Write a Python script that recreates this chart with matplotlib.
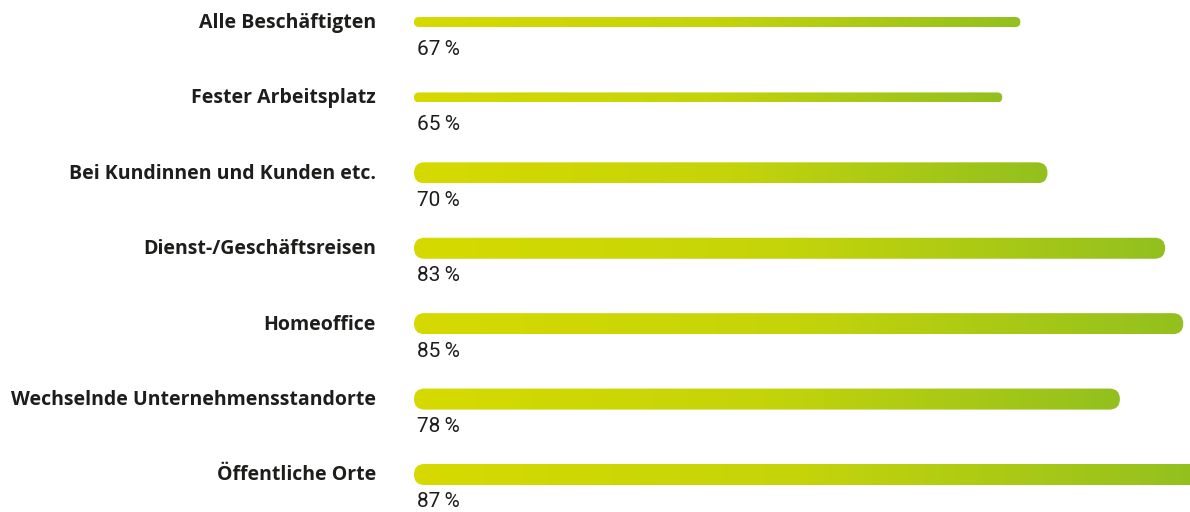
import numpy as np
import matplotlib.pyplot as plt
from matplotlib.patches import FancyBboxPatch
from matplotlib.colors import LinearSegmentedColormap

# Anteil in Prozent je Arbeitsort
kategorien = ['Alle Beschäftigten', 'Fester Arbeitsplatz', 'Bei Kundinnen und Kunden etc.',
              'Dienst-/Geschäftsreisen', 'Homeoffice', 'Wechselnde Unternehmensstandorte',
              'Öffentliche Orte']
werte = [67, 65, 70, 83, 85, 78, 87]
dick = [False, False, True, True, True, True, True]

W, H = 1190, 512
fig = plt.figure(figsize=(W / 100, H / 100), dpi=100)
x0 = 414
px_per_pct = 9.05
px_per_row = 75.4
ax = fig.add_axes([x0 / W, 0, 1 - x0 / W, 1])
ax.axis('off')

cmap = LinearSegmentedColormap.from_list('gelbgruen', ['#d6da00', '#c4d40a', '#93c01f'])
grad = np.linspace(0, 1, 256).reshape(1, -1)
aspect = px_per_pct / px_per_row

for i, (name, v, d) in enumerate(zip(kategorien, werte, dick)):
    h_px = 21 if d else 10
    h = h_px / px_per_row
    patch = FancyBboxPatch((0, i - h / 2), v, h,
                           boxstyle=f'round,pad=0,rounding_size={h_px / 2 / px_per_pct}',
                           mutation_aspect=aspect, facecolor='none', edgecolor='none')
    ax.add_patch(patch)
    im = ax.imshow(grad, extent=[0, v, i + h / 2, i - h / 2], cmap=cmap,
                   aspect='auto', interpolation='bicubic')
    im.set_clip_path(patch)
    ax.annotate(name, xy=(0, i), xytext=(-38, -1), textcoords='offset pixels',
                ha='right', va='center', fontsize=14, fontweight='bold',
                family='Open Sans', color='#1d1d1b', annotation_clip=False)
    ax.annotate(f'{v}\u2009%', xy=(0, i), xytext=(3, -27.5), textcoords='offset pixels',
                ha='left', va='center', fontsize=15, family='Roboto',
                color='#1d1d1b', annotation_clip=False)

ax.set_xlim(0, (W - x0) / px_per_pct)
ax.set_ylim(6 + (H - 474.5) / px_per_row, -22 / px_per_row)
fig.savefig('out.png', dpi=100)
